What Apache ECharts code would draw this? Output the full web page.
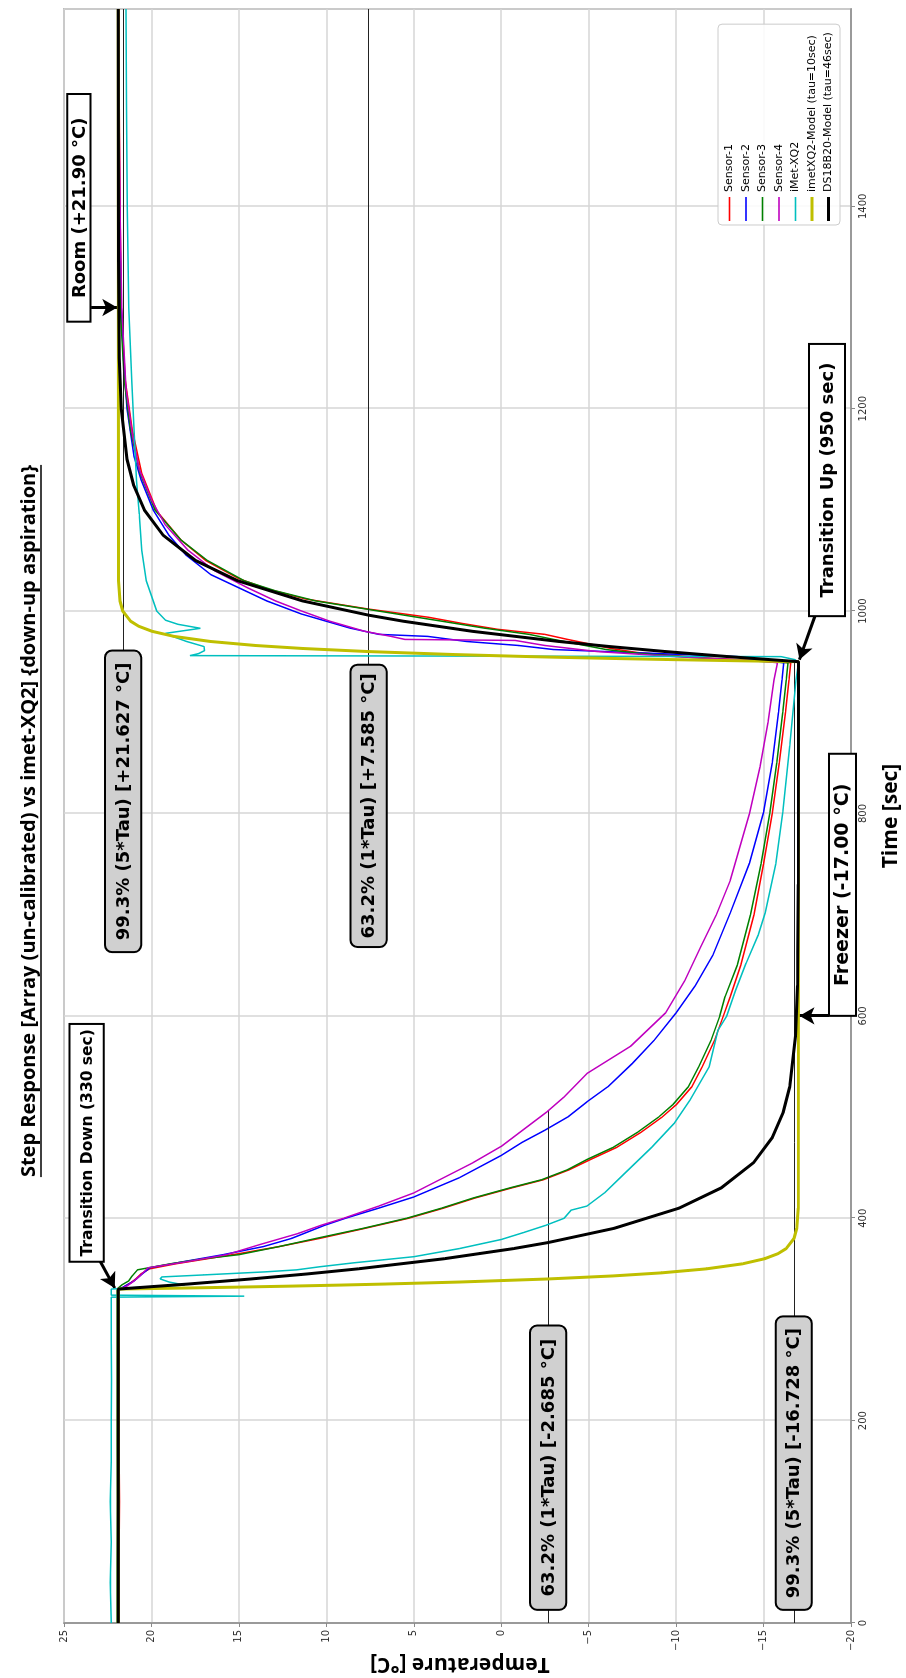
<!DOCTYPE html>
<html><head><meta charset="utf-8">
<script src="https://cdn.jsdelivr.net/npm/echarts/dist/echarts.min.js"></script>
<style>
html,body{margin:0;padding:0;width:906px;height:1678px;overflow:hidden;background:#fff;}
#wrap{position:absolute;left:0;top:0;width:1678px;height:906px;transform-origin:0 0;transform:translate(0px,1678px) rotate(-90deg);}
#chart{width:1678px;height:906px;}
</style></head><body><div id="wrap"><div id="chart"></div></div>
<script>
// ---------- data (time [s], temperature [degC]) ----------
const seriesNames = ['Sensor-1','Sensor-2','Sensor-3','Sensor-4','iMet-XQ2','imetXQ2-Model (tau=10sec)','DS18B20-Model (tau=46sec)'];

const sensor1 = [[0,21.85],[60,21.85],[120,21.83],[180,21.85],[240,21.84],[300,21.85],[329,21.85],[332,21.6],[336,21.2],[340,20.9],[345,20.6],[350,20.1],[355,18.6],[360,16.8],[365,15.0],[372,12.7],[380,10.4],[390,7.8],[400,5.3],[410,3.3],[420,1.5],[430,-0.6],[438,-2.4],[448,-3.9],[458,-5.1],[470,-6.6],[485,-8.0],[500,-9.2],[512,-10.0],[530,-10.9],[550,-11.5],[576,-12.2],[600,-12.7],[619,-13.1],[650,-13.7],[700,-14.45],[750,-15.0],[800,-15.5],[850,-15.9],[900,-16.25],[932,-16.45],[949,-16.55],[951,-14.5],[954,-11.5],[959,-7.8],[963,-6.3],[967,-5.2],[972,-3.8],[977,-2.5],[982,0.2],[988,2.3],[994,4.2],[1002,7.6],[1012,11.2],[1022,13.4],[1032,15.0],[1050,16.9],[1070,18.3],[1099,19.7],[1136,20.55],[1179,21.1],[1228,21.5],[1300,21.72],[1400,21.8],[1500,21.84],[1595,21.85]];

const sensor2 = [[0,21.9],[60,21.9],[120,21.92],[180,21.9],[240,21.9],[300,21.91],[329,21.9],[333,21.5],[338,21.0],[344,20.6],[351,20.1],[357,18.2],[364,15.9],[372,13.6],[380,12.0],[393,10.1],[400,8.9],[410,7.0],[421,5.0],[440,2.4],[462,0.0],[475,-1.2],[487,-2.5],[500,-3.8],[515,-4.9],[530,-6.1],[553,-7.5],[576,-8.75],[603,-10.0],[630,-11.1],[660,-12.1],[702,-13.1],[751,-14.2],[801,-15.0],[850,-15.5],[900,-15.85],[932,-16.05],[949,-16.15],[951,-14.9],[955,-13.5],[959,-7.5],[962,-3.0],[966,-1.0],[970,2.0],[975,4.2],[977,7.0],[983,8.6],[990,10.0],[997,11.4],[1010,13.4],[1023,15.0],[1036,16.6],[1055,18.0],[1075,19.0],[1100,19.9],[1130,20.6],[1153,21.0],[1200,21.4],[1250,21.6],[1300,21.72],[1400,21.82],[1500,21.85],[1595,21.88]];

const sensor3 = [[0,21.95],[60,21.95],[120,21.94],[180,21.95],[240,21.95],[300,21.95],[329,21.95],[331,21.9],[334,21.7],[338,21.3],[343,21.1],[349,20.8],[355,18.9],[360,17.0],[364,15.0],[372,12.7],[380,10.6],[390,7.9],[400,5.4],[410,3.4],[420,1.6],[430,-0.5],[438,-2.3],[448,-3.8],[458,-4.9],[470,-6.4],[485,-7.8],[500,-9.0],[512,-9.8],[530,-10.7],[550,-11.3],[576,-12.0],[600,-12.5],[619,-12.8],[650,-13.5],[700,-14.25],[750,-14.85],[800,-15.35],[850,-15.75],[900,-16.1],[932,-16.3],[949,-16.4],[951,-14.0],[954,-11.0],[958,-8.0],[962,-6.0],[967,-4.5],[972,-3.0],[977,-1.6],[983,0.9],[990,3.4],[1000,7.0],[1010,10.6],[1020,12.9],[1030,14.7],[1050,16.8],[1070,18.3],[1100,19.8],[1136,20.65],[1179,21.2],[1228,21.55],[1300,21.78],[1400,21.85],[1500,21.88],[1595,21.9]];

const sensor4 = [[0,21.9],[60,21.9],[120,21.9],[180,21.91],[240,21.9],[300,21.9],[329,21.9],[333,21.4],[338,21.0],[344,20.6],[351,20.2],[357,18.0],[364,15.7],[374,13.8],[385,11.6],[393,10.3],[400,9.0],[412,7.0],[425,5.0],[440,3.3],[455,1.6],[471,0.0],[488,-1.3],[505,-2.6],[520,-3.6],[543,-4.9],[570,-7.4],[603,-9.4],[635,-10.5],[668,-11.4],[700,-12.3],[734,-13.1],[770,-13.7],[800,-14.2],[846,-14.8],[890,-15.25],[932,-15.6],[949,-15.8],[951,-14.5],[955,-10.0],[960,-5.5],[966,-2.5],[971,-0.8],[972,5.5],[975,6.3],[980,7.8],[990,9.8],[1000,11.4],[1010,12.9],[1023,14.5],[1040,16.4],[1060,17.9],[1085,19.2],[1110,20.0],[1140,20.7],[1175,21.1],[1220,21.45],[1300,21.7],[1400,21.8],[1500,21.85],[1595,21.87]];

const imetXQ2 = [[0,22.3],[40,22.35],[80,22.3],[120,22.35],[160,22.3],[200,22.3],[240,22.28],[280,22.3],[322,22.3],[323,14.7],[324,22.3],[330,22.3],[332,20.5],[334,18.1],[337,19.0],[340,19.5],[342,19.4],[344,17.0],[347,13.5],[349,11.7],[352,10.4],[356,8.4],[362,5.0],[370,2.4],[379,0.0],[386,-1.3],[393,-2.55],[400,-3.6],[408,-4.0],[412,-4.9],[425,-5.9],[445,-7.1],[470,-8.6],[494,-9.9],[517,-10.8],[550,-11.9],[586,-12.4],[600,-12.9],[625,-13.4],[652,-14.0],[680,-14.7],[702,-15.1],[750,-15.7],[801,-16.1],[867,-16.5],[932,-16.85],[949,-17.0],[952,-16.8],[955,-16.0],[956,17.8],[958,17.3],[961,16.96],[965,17.0],[970,18.0],[975,18.8],[978,19.2],[983,17.2],[987,18.5],[991,19.2],[1000,19.7],[1015,20.0],[1030,20.3],[1060,20.55],[1096,20.7],[1129,20.85],[1180,21.0],[1228,21.12],[1300,21.3],[1400,21.38],[1500,21.42],[1595,21.45]];

const imetModel = [[0,21.9],[330,21.9],[331,18.2],[332,14.85],[333,11.82],[334,9.07],[335,6.59],[337,2.32],[340,-2.69],[343,-6.4],[346,-9.15],[350,-11.74],[355,-13.81],[360,-15.06],[365,-15.83],[370,-16.29],[380,-16.74],[390,-16.9],[410,-16.99],[950,-17.0],[951,-13.3],[952,-9.95],[953,-6.92],[954,-4.17],[955,-1.69],[957,2.58],[960,7.59],[963,11.3],[966,14.05],[970,16.64],[975,18.71],[980,19.96],[985,20.73],[990,21.19],[1000,21.64],[1010,21.8],[1030,21.89],[1595,21.9]];

const dsModel = [[0,21.9],[330,21.9],[335,17.89],[340,14.3],[345,11.07],[350,8.18],[360,3.26],[370,-0.7],[376,-2.69],[390,-6.45],[410,-10.17],[430,-12.58],[455,-14.43],[480,-15.51],[505,-16.13],[530,-16.5],[580,-16.83],[630,-16.94],[730,-16.99],[950,-17.0],[955,-12.99],[960,-9.4],[965,-6.17],[970,-3.28],[980,1.64],[990,5.6],[996,7.59],[1010,11.35],[1030,15.07],[1050,17.48],[1075,19.33],[1100,20.41],[1125,21.03],[1150,21.4],[1200,21.73],[1250,21.84],[1350,21.89],[1595,21.9]];

// reference levels (tau lines)
const tauLevels = [-2.685, -16.728, 7.585, 21.627];
const tauFrom   = [0, 0, 668, 668];
const tauTo     = [506, 950, 1595, 1595];

// annotation texts, their box spans [t0,t1] x [Tlow,Thigh], arrows [tail, head]
const boxTexts = ['Transition Down (330 sec)','Transition Up (950 sec)','Room (+21.90 \u00b0C)','Freezer (-17.00 \u00b0C)',
  '63.2% (1*Tau) [-2.685 \u00b0C]','99.3% (5*Tau) [-16.728 \u00b0C]','63.2% (1*Tau) [+7.585 \u00b0C]','99.3% (5*Tau) [+21.627 \u00b0C]'];
const boxTime = [[357,592],[995,1264],[1286,1511],[600,859],[13,294],[13,303],[668,947],[663,961]];
const boxTemp = [[22.72,24.68],[-19.65,-17.6],[23.48,24.81],[-20.28,-18.74],[-3.72,-1.65],[-17.76,-15.70],[6.55,8.62],[20.59,22.66]];
const arrowTail = [[358,22.95],[998,-18.0],[1300,23.45],[600,-18.74]];
const arrowHead = [[331,22.1],[952,-17.05],[1300,21.95],[600,-17.05]];
const titleText = 'Step Response [Array (un-calibrated) vs imet-XQ2] {down-up aspiration}';

// ---------- chart ----------
const colors = ['#ff0000','#0000ff','#008000','#bf00bf','#00bfbf','#bfbf00','#000000'];
const widths = [1.5,1.5,1.5,1.5,1.5,3,3];
const allData = [sensor1,sensor2,sensor3,sensor4,imetXQ2,imetModel,dsModel];
const chart = echarts.init(document.getElementById('chart'), null, {renderer:'canvas'});
const axisCol = '#8a8a8a';
const fmtT = v => v < 0 ? '\u2212' + (-v) : String(v);

const series = allData.map((d,i)=>({
  name: seriesNames[i], type:'line', data:d, showSymbol:false, symbol:'none',
  lineStyle:{color:colors[i], width:widths[i]}, itemStyle:{color:colors[i]},
  clip:true, z:2+i, silent:true
}));
series.push({
  name:'_tau', type:'line', data:[], silent:true, z:10,
  markLine:{silent:true, symbol:'none', label:{show:false}, animation:false,
    lineStyle:{color:'#222', width:1, type:'solid'},
    data: tauLevels.map((T,i)=>[{coord:[tauFrom[i],T]},{coord:[tauTo[i],T]}])}
});
series.push({
  name:'_arrows', type:'line', data:[], silent:true, z:12,
  markLine:{silent:true, symbol:['none','arrow'], symbolSize:[13,15], label:{show:false}, animation:false,
    lineStyle:{color:'#000', width:3, type:'solid'},
    data: arrowTail.map((p,i)=>[{coord:p},{coord:arrowHead[i]}])}
});

const legendData = seriesNames.map((n,i)=>({name:n, icon: widths[i] > 2 ? 'path://M0,0H24V3H0Z' : 'path://M0,0H24V1.6H0Z'}));

chart.setOption({
  animation:false,
  backgroundColor:'#ffffff',
  grid:{left:55,right:9,top:64,bottom:55,show:true,borderColor:axisCol,borderWidth:1.5,backgroundColor:'transparent'},
  xAxis:{type:'value',min:0,max:1595,interval:200,
    axisLine:{show:true,onZero:false,lineStyle:{color:axisCol,width:1.5}},
    axisTick:{show:true,length:4,lineStyle:{color:axisCol,width:1}},
    axisLabel:{fontSize:10,color:'#333',fontFamily:'DejaVu Sans',margin:7,showMaxLabel:false,formatter:v=>String(v)},
    splitLine:{show:true,lineStyle:{color:'#d6d6d6',width:1.5}}},
  yAxis:{type:'value',min:-20,max:25,interval:5,
    axisLine:{show:true,onZero:false,lineStyle:{color:axisCol,width:1.5}},
    axisTick:{show:true,length:4,lineStyle:{color:axisCol,width:1}},
    axisLabel:{fontSize:10,color:'#333',fontFamily:'DejaVu Sans',margin:7,formatter:fmtT},
    splitLine:{show:true,lineStyle:{color:'#d6d6d6',width:1.5}}},
  legend:{show:true,orient:'vertical',left:1453,top:718,data:legendData,
    itemWidth:24,itemHeight:12,itemGap:5.5,
    textStyle:{fontSize:11,fontFamily:'DejaVu Sans',color:'#000'},
    backgroundColor:'rgba(255,255,255,0.85)',borderColor:'#cccccc',borderWidth:1,borderRadius:4,
    padding:[6,8,6,4],selectedMode:false},
  series:series
});

// ---------- annotation boxes placed through the chart's own scales ----------
const px = p => chart.convertToPixel({xAxisIndex:0,yAxisIndex:0}, p);
const boxFonts = [15.5,18,18,19,18,18,18,18];
const graphics = [];
boxTexts.forEach((txt,i)=>{
  const a = px([boxTime[i][0], boxTemp[i][1]]);
  const b = px([boxTime[i][1], boxTemp[i][0]]);
  const isTau = i >= 4;
  graphics.push({type:'rect', z:100, shape:{x:a[0], y:a[1], width:b[0]-a[0], height:b[1]-a[1], r: isTau ? 7 : 0},
    style:{fill: isTau ? '#d0d0d0' : '#ffffff', stroke:'#000', lineWidth:2}});
  graphics.push({type:'text', z:101, style:{text:txt, x:(a[0]+b[0])/2, y:(a[1]+b[1])/2+1, align:'center', verticalAlign:'middle',
    font:'bold '+boxFonts[i]+'px "DejaVu Sans"', fill:'#000'}});
});
// title, axis names
const ctx = document.createElement('canvas').getContext('2d');
const titleFont = 'bold 20px "Open Sans"';
ctx.font = titleFont;
const tw = ctx.measureText(titleText).width;
graphics.push({type:'text', z:100, style:{text:titleText, x:857, y:29, align:'center', verticalAlign:'middle',
  font:titleFont, fill:'#000'}});
graphics.push({type:'line', z:100, shape:{x1:857-tw/2, y1:41, x2:857+tw/2, y2:41}, style:{stroke:'#000', lineWidth:1.5}});
graphics.push({type:'text', z:100, style:{text:'Time [sec]', x:862, y:891, align:'center', verticalAlign:'middle',
  font:'bold 21px "Open Sans"', fill:'#000'}});
graphics.push({type:'text', z:100, x:14, y:460, rotation:Math.PI/2, style:{text:'Temperature [\u00b0C]', x:0, y:0, align:'center', verticalAlign:'middle',
  font:'bold 21px "Open Sans"', fill:'#000'}});
chart.setOption({graphic:graphics});
</script></body></html>
